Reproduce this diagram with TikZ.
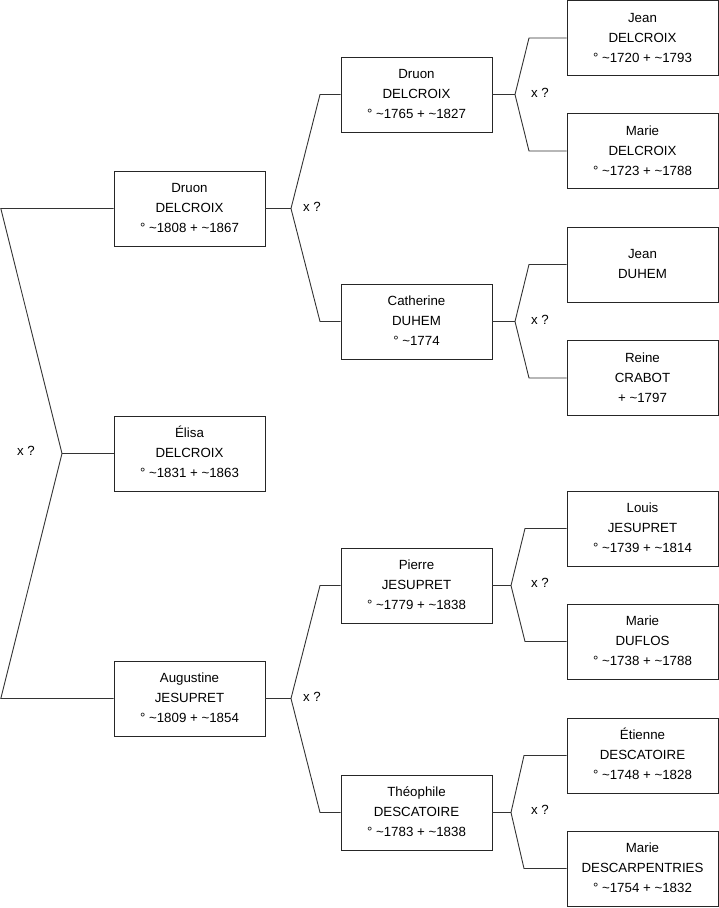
\documentclass[tikz,border=0pt]{standalone}
\usepackage{fontspec}
\setmainfont{Liberation Sans}
\newcommand\apx{\textasciitilde}
\newcommand\pp[3]{\raisebox{1.5pt}{\begin{tabular}{@{}c@{}}#1\\#2\\#3\end{tabular}}}
\tikzset{
  person/.style={draw=black!85, line width=0.9pt, minimum width=151pt, minimum height=75pt, inner sep=0pt, font=\fontsize{13.3}{20}\selectfont, fill=white},
  link/.style={draw=black!80, line width=0.9pt},
  xq/.style={font=\fontsize{13.3}{15}\selectfont, inner sep=0pt}
}
\begin{document}
\begin{tikzpicture}[x=1pt,y=-1pt]
\useasboundingbox[fill=white] (0,0) rectangle (719,908);
% generation 1
\node[person] (g1a) at (189.5,208.5) {\pp{Druon}{DELCROIX}{° \apx1808 + \apx1867}};
\node[person] (g1b) at (189.5,453.5) {\pp{Élisa}{DELCROIX}{° \apx1831 + \apx1863}};
\node[person] (g1c) at (189.5,698.5) {\pp{Augustine}{JESUPRET}{° \apx1809 + \apx1854}};
% generation 2
\node[person] (g2a) at (416.5,94.5) {\pp{Druon}{DELCROIX}{° \apx1765 + \apx1827}};
\node[person] (g2b) at (416.5,321.5) {\pp{Catherine}{DUHEM}{° \apx1774}};
\node[person] (g2c) at (416.5,585.5) {\pp{Pierre}{JESUPRET}{° \apx1779 + \apx1838}};
\node[person] (g2d) at (416.5,812.5) {\pp{Théophile}{DESCATOIRE}{° \apx1783 + \apx1838}};
% generation 3
\node[person] (g3a) at (642.5,38) {\pp{Jean}{DELCROIX}{° \apx1720 + \apx1793}};
\node[person] (g3b) at (642.5,151) {\pp{Marie}{DELCROIX}{° \apx1723 + \apx1788}};
\node[person] (g3c) at (642.5,264.5) {\pp{Jean}{DUHEM}{}};
\node[person] (g3d) at (642.5,378) {\pp{Reine}{CRABOT}{+ \apx1797}};
\node[person] (g3e) at (642.5,528.5) {\pp{Louis}{JESUPRET}{° \apx1739 + \apx1814}};
\node[person] (g3f) at (642.5,641.5) {\pp{Marie}{DUFLOS}{° \apx1738 + \apx1788}};
\node[person] (g3g) at (642.5,755.5) {\pp{Étienne}{DESCATOIRE}{° \apx1748 + \apx1828}};
\node[person] (g3h) at (642.5,868.5) {\pp{Marie}{DESCARPENTRIES}{° \apx1754 + \apx1832}};
% root connector
\coordinate (rv) at (62,453.5);
\coordinate (rt) at (0.8,208.5);
\coordinate (rb) at (0.8,698.5);
\draw[link] (g1a.west) -- (rt) -- (rv) -- (rb) -- (g1c.west);
\draw[link] (rv) -- (g1b.west);
\node[xq] (q0) at (26,451) {x ?};
% generation 1 -> 2
\coordinate (av) at (291,208.5);
\draw[link] (g1a.east) -- (av);
\draw[link] (av) -- (320,94.5) -- (g2a.west);
\draw[link] (av) -- (320,321.5) -- (g2b.west);
\node[xq] (q1) at (312,207) {x ?};
\coordinate (cv) at (291,698.5);
\draw[link] (g1c.east) -- (cv);
\draw[link] (cv) -- (320,585.5) -- (g2c.west);
\draw[link] (cv) -- (320,812.5) -- (g2d.west);
\node[xq] (q2) at (312,697) {x ?};
% generation 2 -> 3
\coordinate (v2a) at (515,94.5);
\draw[link] (g2a.east) -- (v2a);
\draw[link] (v2a) -- (529,38) -- (g3a.west);
\draw[link] (v2a) -- (529,151) -- (g3b.west);
\node[xq] (q3) at (540,93) {x ?};
\coordinate (v2b) at (515,321.5);
\draw[link] (g2b.east) -- (v2b);
\draw[link] (v2b) -- (529,264.5) -- (g3c.west);
\draw[link] (v2b) -- (529,378) -- (g3d.west);
\node[xq] (q4) at (540,320) {x ?};
\coordinate (v2c) at (511,585.5);
\draw[link] (g2c.east) -- (v2c);
\draw[link] (v2c) -- (525,528.5) -- (g3e.west);
\draw[link] (v2c) -- (525,641.5) -- (g3f.west);
\node[xq] (q5) at (540,583) {x ?};
\coordinate (v2d) at (511,812.5);
\draw[link] (g2d.east) -- (v2d);
\draw[link] (v2d) -- (524,755.5) -- (g3g.west);
\draw[link] (v2d) -- (524,868.5) -- (g3h.west);
\node[xq] (q6) at (540,810) {x ?};
\end{tikzpicture}
\end{document}
